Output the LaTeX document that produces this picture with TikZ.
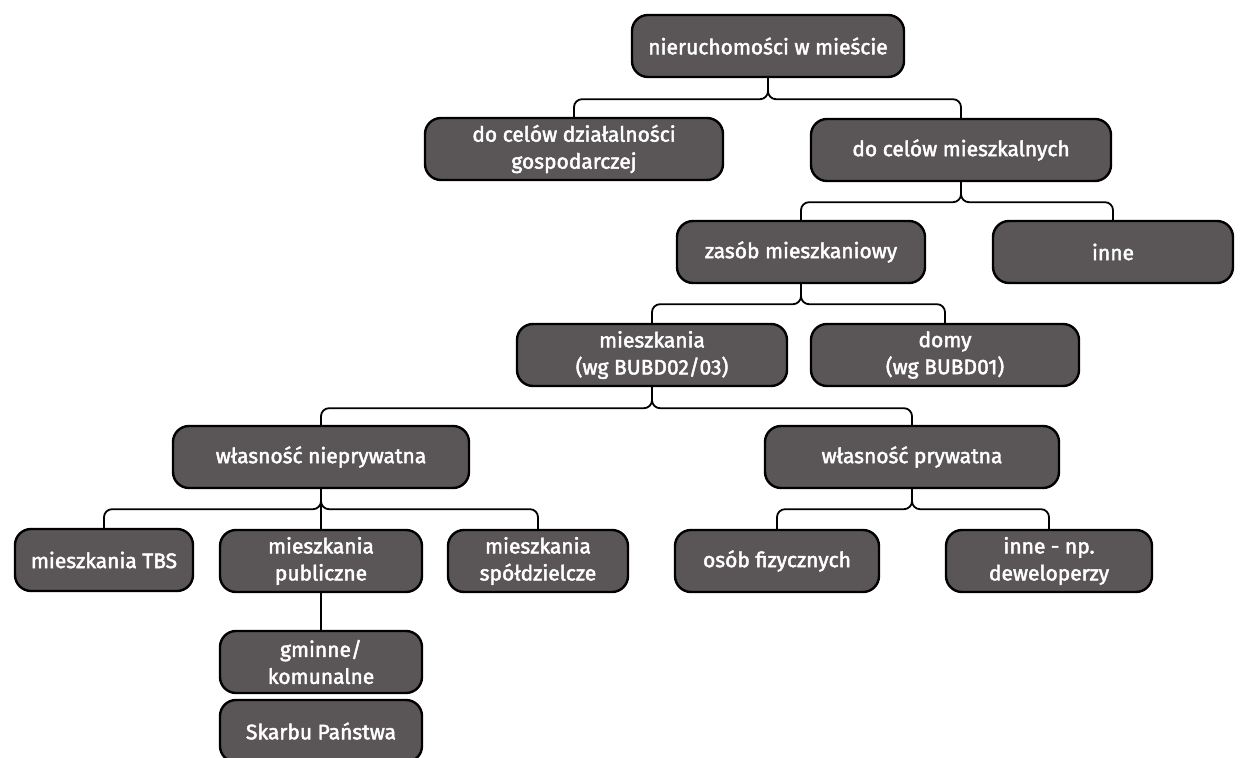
\documentclass[tikz,border=0pt]{standalone}
\usepackage{fontspec}
\setmainfont{Fira Sans}
\newfontfamily\boxfont{Fira Sans}[FakeBold=2.2]
\usetikzlibrary{positioning}
\definecolor{boxgray}{HTML}{5A5557}
\tikzset{
  box/.style={draw=black, line width=1.2pt, fill=boxgray, rounded corners=8pt,
    text=white, align=center, font=\boxfont\fontsize{10.5}{13.5}\selectfont,
    minimum height=31pt, inner sep=2pt},
  link/.style={draw=black, line width=0.9pt, rounded corners=4pt},
}
\begin{document}
\begin{tikzpicture}[x=0.5pt,y=-0.5pt]
	\useasboundingbox[fill=white] (0,0) rectangle (1240,758);
	% level 1-3
	\node[box, minimum width=136pt] (root) at (768,46) {nieruchomości w mieście};
	\node[box, minimum width=149pt] (dzial) at (574,149) {do celów działalności\\gospodarczej};
	\node[box, minimum width=150pt] (mieszk) at (961,150) {do celów mieszkalnych};
	\node[box, minimum width=124pt] (zasob) at (801,252) {zasób mieszkaniowy};
	\node[box, minimum width=120pt] (inne) at (1113,252) {inne};
	% level 4-5
	\node[box, minimum width=135pt] (mieszkania) at (652,355) {mieszkania\\(wg BUBD02/03)};
	\node[box, minimum width=134pt] (domy) at (945,355) {domy\\(wg BUBD01)};
	\node[box, minimum width=148pt] (niepryw) at (321,457) {własność nieprywatna};
	\node[box, minimum width=147pt] (pryw) at (912,457) {własność prywatna};
	% level 6
	\node[box, minimum width=89pt] (tbs) at (104,560) {mieszkania TBS};
	\node[box, minimum width=101pt] (publ) at (321,561) {mieszkania\\publiczne};
	\node[box, minimum width=90pt] (spol) at (538,561) {mieszkania\\spółdzielcze};
	\node[box, minimum width=102pt] (fiz) at (777,561) {osób fizycznych};
	\node[box, minimum width=103pt] (dew) at (1049,561) {inne - np.\\deweloperzy};
	\node[box, minimum width=101pt] (gmin) at (321,662) {gminne/\\komunalne};
	\node[box, minimum width=101pt] (skarb) at (321,731) {Skarbu Państwa};
	% connectors
	\draw[link] (root.south) -- ++(0,21) -| (dzial.north);
	\draw[link] (root.south) -- ++(0,21) -| (mieszk.north);
	\draw[link] (mieszk.south) -- ++(0,20) -| (zasob.north);
	\draw[link] (mieszk.south) -- ++(0,20) -| (inne.north);
	\draw[link] (zasob.south) -- ++(0,20) -| (mieszkania.north);
	\draw[link] (zasob.south) -- ++(0,20) -| (domy.north);
	\draw[link] (mieszkania.south) -- ++(0,21) -| (niepryw.north);
	\draw[link] (mieszkania.south) -- ++(0,21) -| (pryw.north);
	\draw[link] (niepryw.south) -- ++(0,20) -| (tbs.north);
	\draw[link] (niepryw.south) -- (publ.north);
	\draw[link] (niepryw.south) -- ++(0,20) -| (spol.north);
	\draw[link] (pryw.south) -- ++(0,20) -| (fiz.north);
	\draw[link] (pryw.south) -- ++(0,20) -| (dew.north);
	\draw[link] (publ.south) -- (gmin.north);
\end{tikzpicture}
\end{document}
